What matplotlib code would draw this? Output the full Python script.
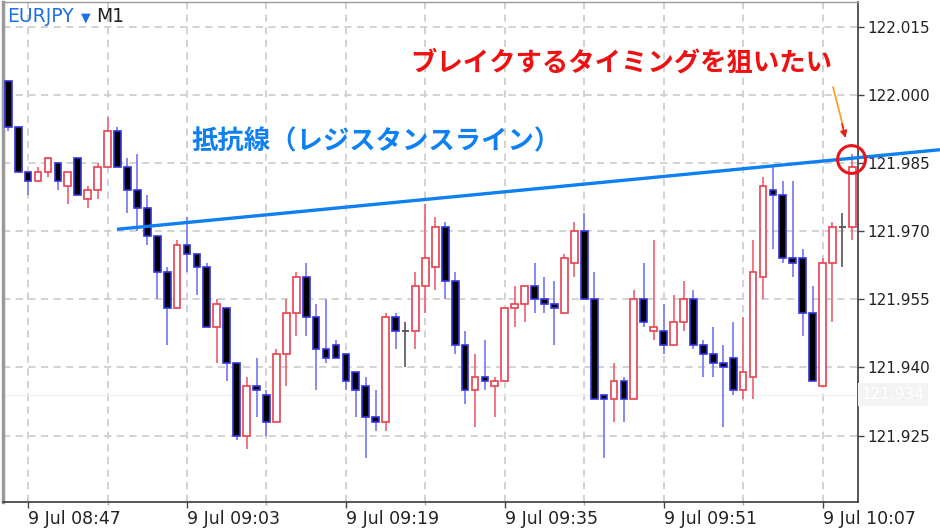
import numpy as np
import pandas as pd
import matplotlib
matplotlib.use("Agg")
import matplotlib.pyplot as plt

plt.rcParams['font.family'] = ['DejaVu Sans', 'Noto Sans CJK JP']

# EURJPY M1 四本値 (08:45 - 10:10)
opens = [122.003, 121.993, 121.983, 121.981, 121.983, 121.985, 121.980, 121.986, 121.977, 121.979,
         121.984, 121.992, 121.984, 121.979, 121.975, 121.969, 121.961, 121.953, 121.967, 121.965,
         121.962, 121.949, 121.953, 121.941, 121.925, 121.936, 121.934, 121.928, 121.943, 121.952,
         121.960, 121.951, 121.944, 121.945, 121.943, 121.939, 121.936, 121.929, 121.928, 121.951,
         121.948, 121.948, 121.958, 121.962, 121.971, 121.959, 121.945, 121.935, 121.938, 121.936,
         121.937, 121.953, 121.954, 121.958, 121.955, 121.954, 121.952, 121.963, 121.970, 121.955,
         121.934, 121.933, 121.937, 121.933, 121.955, 121.948, 121.948, 121.945, 121.950, 121.955,
         121.945, 121.943, 121.941, 121.942, 121.935, 121.938, 121.960, 121.979, 121.978, 121.964,
         121.964, 121.952, 121.936, 121.963, 121.971, 121.971]
highs = [122.003, 121.993, 121.983, 121.984, 121.986, 121.985, 121.983, 121.986, 121.980, 121.985,
         121.995, 121.993, 121.986, 121.987, 121.978, 121.969, 121.962, 121.968, 121.973, 121.965,
         121.963, 121.955, 121.953, 121.941, 121.938, 121.942, 121.935, 121.944, 121.955, 121.961,
         121.963, 121.954, 121.955, 121.946, 121.943, 121.939, 121.938, 121.935, 121.952, 121.952,
         121.950, 121.961, 121.976, 121.973, 121.972, 121.961, 121.948, 121.943, 121.946, 121.938,
         121.953, 121.958, 121.958, 121.963, 121.960, 121.959, 121.965, 121.972, 121.974, 121.961,
         121.934, 121.941, 121.938, 121.957, 121.963, 121.968, 121.954, 121.956, 121.959, 121.957,
         121.946, 121.949, 121.945, 121.950, 121.951, 121.968, 121.982, 121.984, 121.981, 121.981,
         121.966, 121.958, 121.964, 121.972, 121.974, 121.987]
lows = [121.992, 121.983, 121.978, 121.981, 121.982, 121.979, 121.976, 121.978, 121.975, 121.977,
        121.984, 121.984, 121.974, 121.970, 121.967, 121.955, 121.945, 121.953, 121.961, 121.956,
        121.949, 121.941, 121.937, 121.924, 121.922, 121.929, 121.925, 121.928, 121.936, 121.947,
        121.947, 121.935, 121.941, 121.942, 121.935, 121.929, 121.920, 121.926, 121.926, 121.944,
        121.940, 121.944, 121.952, 121.957, 121.955, 121.943, 121.932, 121.927, 121.935, 121.929,
        121.937, 121.949, 121.950, 121.952, 121.952, 121.945, 121.952, 121.960, 121.955, 121.933,
        121.920, 121.928, 121.928, 121.933, 121.949, 121.946, 121.943, 121.945, 121.948, 121.944,
        121.938, 121.938, 121.927, 121.934, 121.933, 121.933, 121.955, 121.966, 121.963, 121.960,
        121.947, 121.937, 121.936, 121.950, 121.962, 121.968]
closes = [121.993, 121.983, 121.981, 121.983, 121.986, 121.981, 121.983, 121.978, 121.979, 121.984,
          121.992, 121.984, 121.979, 121.975, 121.969, 121.961, 121.953, 121.967, 121.965, 121.962,
          121.949, 121.954, 121.941, 121.925, 121.936, 121.935, 121.928, 121.943, 121.952, 121.960,
          121.951, 121.944, 121.942, 121.942, 121.937, 121.935, 121.929, 121.928, 121.951, 121.948,
          121.948, 121.958, 121.964, 121.971, 121.959, 121.945, 121.935, 121.938, 121.937, 121.937,
          121.953, 121.954, 121.958, 121.955, 121.954, 121.953, 121.964, 121.970, 121.955, 121.933,
          121.933, 121.937, 121.933, 121.955, 121.950, 121.949, 121.945, 121.950, 121.955, 121.945,
          121.943, 121.941, 121.940, 121.935, 121.939, 121.961, 121.980, 121.978, 121.964, 121.963,
          121.952, 121.937, 121.963, 121.971, 121.971, 121.984]

times = pd.date_range("2020-07-09 08:45", periods=len(opens), freq="min")
yticks = [122.015, 122.000, 121.985, 121.970, 121.955, 121.940, 121.925]
line_x = [10.95, 93.83]          # 抵抗線の端点
line_y = [121.9704, 121.9879]
break_pt = (84.85, 121.9859)     # 丸で囲む所
cur_price = 121.934

o = np.array(opens); h = np.array(highs); l = np.array(lows); c = np.array(closes)
x = np.arange(len(o))
up = c > o
dn = c < o
dj = c == o

fig = plt.figure(figsize=(9.4, 5.29), dpi=100)
ax = fig.add_axes([3/940, 27/529, 855/940, 500/529])

# grid
grid_kw = dict(color="#cfcfcf", lw=1.3, ls=(0, (4, 3)), zorder=0)
for yt in yticks:
    ax.axhline(yt, **grid_kw)
for xt in range(2, len(o), 8):
    ax.axvline(xt, **grid_kw)

# 現在値ライン
ax.axhline(cur_price, color="#f1f1f1", lw=1, zorder=0.5)

# ひげ
ax.vlines(x[up], l[up], h[up], color="#ef6b78", lw=1.3, zorder=2)
ax.vlines(x[dn], l[dn], h[dn], color="#7f7ff7", lw=1.3, zorder=2)
ax.vlines(x[dj], l[dj], h[dj], color="#555555", lw=1.2, zorder=2)
# 実体
ax.bar(x[up], c[up] - o[up], bottom=o[up], width=0.68, color="white",
       edgecolor="#e8414f", lw=1.2, zorder=3)
ax.bar(x[dn], o[dn] - c[dn], bottom=c[dn], width=0.68, color="black",
       edgecolor="#3434e0", lw=1.2, zorder=3)
ax.hlines(o[dj], x[dj] - 0.34, x[dj] + 0.34, color="#555555", lw=1.3, zorder=3)

ax.set_xlim(-0.53, 85.57)
ax.set_ylim(121.9104, 122.0204)

# 軸
ax.yaxis.tick_right()
ax.set_yticks(yticks)
ax.set_yticklabels([f"{v:.3f}" for v in yticks], fontsize=11, color="#222222")
ax.tick_params(axis="y", length=4, width=1, color="#444444", pad=3)
maj = list(range(2, len(o), 16))
ax.set_xticks(maj)
ax.set_xticklabels([times[i].strftime("%-d %b %H:%M") for i in maj],
                   fontsize=12.5, color="#222222", ha="left")
ax.set_xticks(list(range(10, len(o), 16)), minor=True)
ax.tick_params(axis="x", which="major", length=4, width=1, color="#444444", pad=2)
ax.tick_params(axis="x", which="minor", length=2, width=1, color="#aaaaaa")
for s in ["left", "top"]:
    ax.spines[s].set_color("#9a9a9a")
ax.spines["left"].set_linewidth(2.5)
ax.spines["top"].set_linewidth(1)
for s in ["right", "bottom"]:
    ax.spines[s].set_color("#3a3a3a")
    ax.spines[s].set_linewidth(1.2)

# 現在値ラベル
ax.text(1.004, cur_price, f"{cur_price:.3f}", transform=ax.get_yaxis_transform(),
        fontsize=11, color="white", va="center", ha="left",
        bbox=dict(boxstyle="square,pad=0.25", fc="#f3f3f3", ec="none"), clip_on=False)

# 通貨ペア
fig.text(7/940, 1 - 17/529, "EURJPY", color="#1e6fe0", fontsize=13.5, va="center")
fig.text(81/940, 1 - 18/529, "▼", color="#1e6fe0", fontsize=9, va="center")
fig.text(96/940, 1 - 17/529, "M1", color="#222222", fontsize=13.5, va="center")

# 抵抗線
ax.plot(line_x, line_y, color="#0f80f2", lw=2.4, clip_on=False, zorder=5,
        solid_capstyle="butt")
fig.text(191/940, 1 - 142/529, "抵抗線（レジスタンスライン）", color="#0f80f2",
         fontsize=19, fontweight="bold", family="Noto Sans CJK JP", va="center")
fig.text(410/940, 1 - 63/529, "ブレイクするタイミングを狙いたい", color="#ee1111",
         fontsize=19, fontweight="bold", family="Noto Sans CJK JP", va="center")

# 矢印と丸
ax.annotate("", xy=(843.5/940, 1 - 128/529), xytext=(833/940, 1 - 87/529),
            xycoords=fig.transFigure, textcoords=fig.transFigure,
            arrowprops=dict(arrowstyle="-", color="#ff9a1a", lw=1.2,
                            shrinkA=0, shrinkB=0))
ax.annotate("", xy=(845.5/940, 1 - 138/529), xytext=(842/940, 1 - 124/529),
            xycoords=fig.transFigure, textcoords=fig.transFigure,
            arrowprops=dict(arrowstyle="-|>", color="#e8201a", lw=1.2,
                            mutation_scale=10, shrinkA=0, shrinkB=0))
ax.plot([break_pt[0]], [break_pt[1]], marker="o", ms=20, mfc="none", mec="#e8141a",
        mew=2.2, clip_on=False, zorder=6)

fig.savefig("out.png", dpi=100)
